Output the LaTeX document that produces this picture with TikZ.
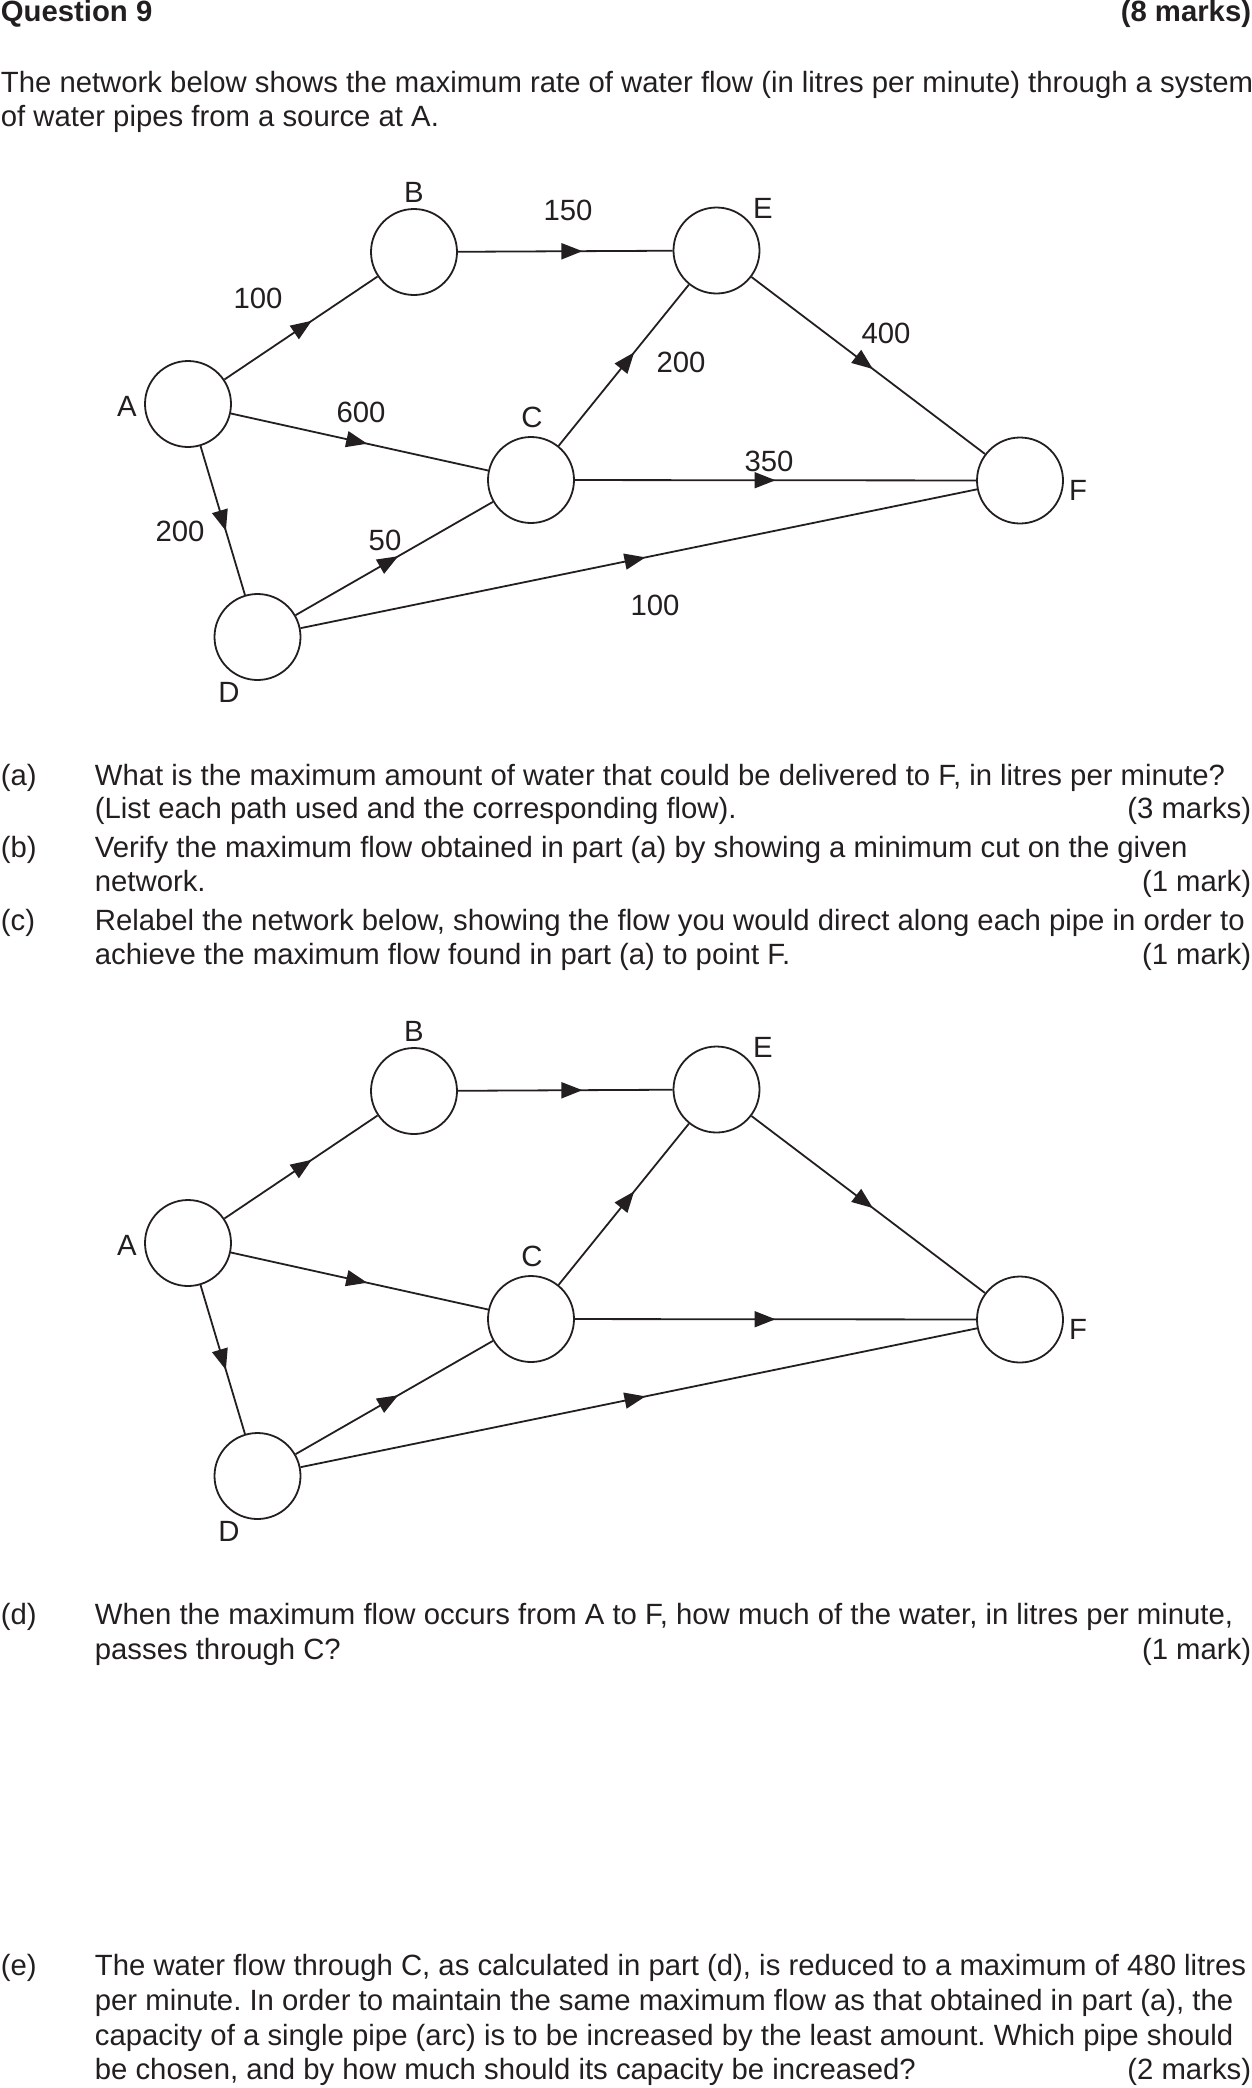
\documentclass[tikz,border=0pt]{standalone}
\usepackage{fontspec}
\setmainfont{Liberation Sans}
\usetikzlibrary{arrows.meta,decorations.markings,positioning}

\definecolor{ink}{HTML}{231F20}
\newcommand{\qfont}{\fontsize{29.3}{34}\selectfont\frenchspacing}

\begin{document}
\begin{tikzpicture}[x=1pt,y=-1pt, line width=1.8pt, color=ink,
    every node/.style={font=\qfont, inner sep=0pt},
    station/.style={circle, draw, minimum size=86pt},
    letter/.style={anchor=base},
    flowcap/.style={anchor=base},
    txt/.style={anchor=base west},
    marks/.style={anchor=base east},
    pipe/.style={postaction={decorate},
        decoration={markings, mark=at position #1 with {\arrow{Triangle[length=21pt,width=16pt]}}}},
    pipe/.default=0.53]
    \useasboundingbox (0,0) rectangle (1252,2088);

    % Heading
    \node[txt, font=\qfont\bfseries] (qhead) at (0,21) {Question 9};
    \node[marks, font=\qfont\bfseries] (qtotal) at (1252,21) {(8 marks)};
    \node[txt] (intro1) at (0,92) {The network below shows the maximum rate of water flow (in litres per minute) through a system};
    \node[txt] (intro2) at (0,126) {of water pipes from a source at A.};

    % The two networks
    \foreach \n/\dy in {1/0, 2/839} {
        \begin{scope}[shift={(0,\dy)}]
            \node[station] (A\n) at (188,404) {};
            \node[station] (B\n) at (414,252) {};
            \node[station] (C\n) at (531,480) {};
            \node[station] (D\n) at (257.5,637) {};
            \node[station] (E\n) at (716.5,250.5) {};
            \node[station] (F\n) at (1020,480.5) {};

            \node[letter] (labA\n) at (127,416) {A};
            \node[letter] (labB\n) at (414,202) {B};
            \node[letter] (labC\n) at (532,427) {C};
            \node[letter] (labD\n) at (229,702) {D};
            \node[letter] (labE\n) at (763,218) {E};
            \node[letter] (labF\n) at (1078,500) {F};

            \draw[pipe=0.57] (A\n) -- (B\n);
            \draw[pipe=0.53] (A\n) -- (C\n);
            \draw[pipe=0.57] (A\n) -- (D\n);
            \draw[pipe=0.58] (B\n) -- (E\n);
            \draw[pipe=0.58] (C\n) -- (E\n);
            \draw[pipe=0.50] (C\n) -- (F\n);
            \draw[pipe=0.52] (D\n) -- (C\n);
            \draw[pipe=0.51] (D\n) -- (F\n);
            \draw[pipe=0.52] (E\n) -- (F\n);
        \end{scope}
    }

    % Capacities (first network only)
    \node[flowcap] (capAB) at (258,308) {100};
    \node[flowcap] (capBE) at (568,220) {150};
    \node[flowcap] (capEF) at (886,343) {400};
    \node[flowcap] (capCE) at (681,372) {200};
    \node[flowcap] (capAC) at (361,422) {600};
    \node[flowcap] (capCF) at (769,471) {350};
    \node[flowcap] (capAD) at (180,541) {200};
    \node[flowcap] (capDC) at (385,550) {50};
    \node[flowcap] (capDF) at (655,615) {100};

    % Parts (a) to (c)
    \node[txt] (pa) at (0,785) {(a)};
    \node[txt] (pa1) at (94,785) {What is the maximum amount of water that could be delivered to F, in litres per minute?};
    \node[txt] (pa2) at (94,818) {(List each path used and the corresponding flow).};
    \node[marks] (pam) at (1252,818) {(3 marks)};

    \node[txt] (pb) at (0,857) {(b)};
    \node[txt] (pb1) at (94,857) {Verify the maximum flow obtained in part (a) by showing a minimum cut on the given};
    \node[txt] (pb2) at (94,891) {network.};
    \node[marks] (pbm) at (1252,891) {(1 mark)};

    \node[txt] (pc) at (0,930) {(c)};
    \node[txt] (pc1) at (94,930) {Relabel the network below, showing the flow you would direct along each pipe in order to};
    \node[txt] (pc2) at (94,964) {achieve the maximum flow found in part (a) to point F.};
    \node[marks] (pcm) at (1252,964) {(1 mark)};

    % Parts (d) and (e)
    \node[txt] (pd) at (0,1624) {(d)};
    \node[txt] (pd1) at (94,1624) {When the maximum flow occurs from A to F, how much of the water, in litres per minute,};
    \node[txt] (pd2) at (94,1659) {passes through C?};
    \node[marks] (pdm) at (1252,1659) {(1 mark)};

    \node[txt] (pe) at (0,1975) {(e)};
    \node[txt] (pe1) at (94,1975) {The water flow through C, as calculated in part (d), is reduced to a maximum of 480 litres};
    \node[txt] (pe2) at (94,2010) {per minute. In order to maintain the same maximum flow as that obtained in part (a), the};
    \node[txt] (pe3) at (94,2045) {capacity of a single pipe (arc) is to be increased by the least amount. Which pipe should};
    \node[txt] (pe4) at (94,2079) {be chosen, and by how much should its capacity be increased?};
    \node[marks] (pem) at (1252,2079) {(2 marks)};
\end{tikzpicture}
\end{document}
